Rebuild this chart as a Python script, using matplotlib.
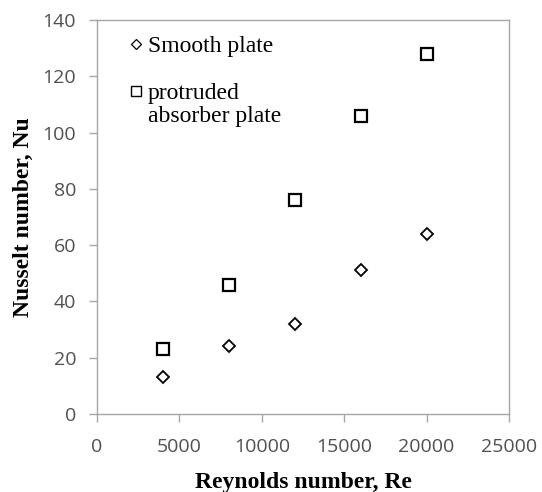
import matplotlib
matplotlib.use("Agg")
import matplotlib.pyplot as plt
from matplotlib.lines import Line2D

# Nusselt number vs Reynolds number
re = [4000, 8000, 12000, 16000, 20000]
nu_smooth = [13, 24, 32, 51, 64]
nu_protruded = [23, 46, 76, 106, 128]

x_ticks = [0, 5000, 10000, 15000, 20000, 25000]
y_ticks = [0, 20, 40, 60, 80, 100, 120, 140]

W, H = 542, 492
fig = plt.figure(figsize=(W / 100, H / 100), dpi=100)
ax = fig.add_axes([97 / W, 1 - 414 / H, (509 - 97) / W, (414 - 20) / H])

ax.plot(re, nu_smooth, linestyle="none", marker="D", markersize=6.5,
        markerfacecolor="white", markeredgecolor="black",
        markeredgewidth=1.3)
ax.plot(re, nu_protruded, linestyle="none", marker="s", markersize=9,
        markerfacecolor="white", markeredgecolor="black",
        markeredgewidth=1.6)

ax.set_xlim(0, 25000)
ax.set_ylim(0, 140)
ax.set_xticks(x_ticks)
ax.set_yticks(y_ticks)

for s in ax.spines.values():
    s.set_color("#a6a6a6")
    s.set_linewidth(1.0)
ax.tick_params(colors="#a6a6a6", labelcolor="#505050", length=6, width=1.0,
               labelsize=14)
for lab in ax.get_xticklabels() + ax.get_yticklabels():
    lab.set_family("Open Sans")
ax.tick_params(axis="x", pad=11.5)
ax.tick_params(axis="y", pad=9)

serif = "Liberation Serif"
ax.set_xlabel("Reynolds number, Re", family=serif, fontweight="bold",
              fontsize=17, labelpad=11.5)
ax.set_ylabel("Nusselt number, Nu", family=serif, fontweight="bold",
              fontsize=17, labelpad=6)

leg_font = {"family": serif, "size": 17}
leg_kw = dict(frameon=False, prop=leg_font, handlelength=0.5,
              handletextpad=0.25, borderaxespad=0.0, borderpad=0.0)

# smooth plate entry
leg1 = ax.legend([Line2D([], [], linestyle="none", marker="D", markersize=5,
                         markerfacecolor="white", markeredgecolor="black",
                         markeredgewidth=0.9)],
                 ["Smooth plate"], loc="upper left",
                 bbox_to_anchor=(0.08, 0.961), **leg_kw)
ax.add_artist(leg1)

# protruded plate entry, handle aligned with the first line of the label
blank = Line2D([], [], linestyle="none")
ax.legend([Line2D([], [], linestyle="none", marker="s", markersize=7,
                  markerfacecolor="white", markeredgecolor="black",
                  markeredgewidth=1.0), blank],
          ["protruded", "absorber plate"], loc="upper left",
          bbox_to_anchor=(0.08, 0.841), labelspacing=0.05, **leg_kw)

fig.savefig("out.png", dpi=100)
